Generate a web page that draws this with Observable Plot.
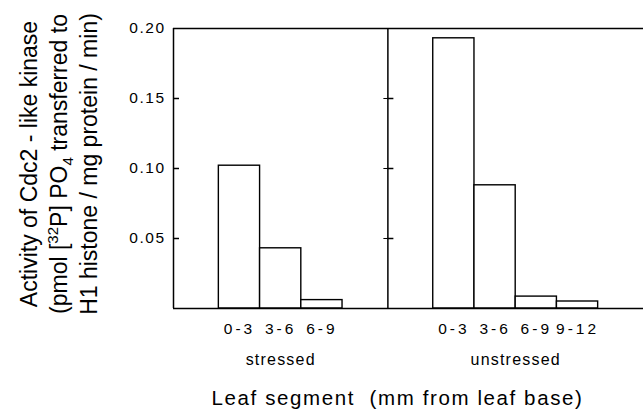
<!DOCTYPE html>
<html><head><meta charset="utf-8">
<script src="https://cdn.jsdelivr.net/npm/d3@7"></script>
<script src="https://cdn.jsdelivr.net/npm/@observablehq/plot@0.6"></script>
<style>body{margin:0;background:#fff} svg{display:block;background:#fff}</style>
</head><body><div id="chart"></div>
<script>
// ---- data ----
const groups = ["stressed", "unstressed"];
const stressedSegments = ["0-3", "3-6", "6-9"];
const stressedValues = [0.102, 0.043, 0.006];
const unstressedSegments = ["0-3", "3-6", "6-9", "9-12"];
const unstressedValues = [0.193, 0.088, 0.0085, 0.005];
const yTicks = [0.05, 0.10, 0.15, 0.20];
const yTickLabels = ["0.05", "0.10", "0.15", "0.20"];
const xTitle = "Leaf segment  (mm from leaf base)";

// ---- layout ----
const W = 643, H = 413;
const mL = 173, mR = 0, mT = 28, mB = 105;
const pad = 1.1; // empty space (in bar widths) on each side of a panel
const font = "'Liberation Sans', Arial, Helvetica, sans-serif";

const panels = [
  {group: groups[0], segments: stressedSegments, values: stressedValues},
  {group: groups[1], segments: unstressedSegments, values: unstressedValues}
];
let cursor = 0;
const bars = [], panelInfo = [];
for (const p of panels) {
  const start = cursor;
  p.segments.forEach((s, i) => bars.push({
    group: p.group, segment: s, value: p.values[i],
    x1: start + pad + i, x2: start + pad + i + 1
  }));
  cursor = start + pad * 2 + p.segments.length;
  panelInfo.push({group: p.group, start, end: cursor, mid: (start + cursor) / 2});
}
const xMax = cursor;
const ppu = (W - mL - mR) / xMax;
const tIn = 6 / ppu, tOut = 4 / ppu;
const innerTicks = yTicks.filter(v => v < 0.2);
const divX = panelInfo[0].end;

const chart = Plot.plot({
  width: W, height: H,
  marginLeft: mL, marginRight: mR, marginTop: mT, marginBottom: mB,
  x: {domain: [0, xMax], axis: null},
  y: {domain: [0, 0.2], axis: null},
  style: {fontFamily: font, color: "black", background: "white"},
  marks: [
    Plot.rectY(bars, {x1: "x1", x2: "x2", y1: 0, y2: "value", fill: "white", stroke: "black", strokeWidth: 1.4}),
    Plot.ruleY([0, 0.2], {stroke: "black", strokeWidth: 1.5}),
    Plot.ruleX([0, divX], {y1: 0, y2: 0.2, stroke: "black", strokeWidth: 1.5}),
    Plot.ruleY(innerTicks, {x1: 0, x2: tIn, stroke: "black", strokeWidth: 1.5}),
    Plot.ruleY(innerTicks, {x1: divX - tOut, x2: divX, stroke: "black", strokeWidth: 1}),
    Plot.ruleY(innerTicks, {x1: divX, x2: divX + tIn, stroke: "black", strokeWidth: 1.5}),
    Plot.text(yTicks, {x: 0, y: d => d, text: (d, i) => yTickLabels[i], textAnchor: "end", dx: -8, fontSize: 15.5, fill: "black", ariaDescription: "ytick"}),
    Plot.text(bars, {x: d => (d.x1 + d.x2) / 2, y: 0, text: "segment", dy: 21, fontSize: 15.5, fill: "black", ariaDescription: "xtick"}),
    Plot.text(panelInfo, {x: "mid", y: 0, text: "group", dy: 51, fontSize: 16, fill: "black", ariaDescription: "group"}),
    Plot.text([xTitle], {x: xMax / 2, y: 0, text: d => d, dx: -11, dy: 90, fontSize: 20.5, fill: "black", ariaDescription: "xtitle"})
  ]
});
document.getElementById("chart").appendChild(chart);

const svg = d3.select(chart);
svg.selectAll("g[aria-description=ytick] text").style("letter-spacing", "1.5px");
svg.selectAll("g[aria-description=xtick] text").style("letter-spacing", "3px");
svg.selectAll("g[aria-description=group] text").style("letter-spacing", "1.2px");
svg.selectAll("g[aria-description=xtitle] text").style("letter-spacing", "1.6px").style("white-space", "pre");

// y-axis title (three lines, with superscript / subscript)
const yl = svg.append("g")
  .attr("transform", "translate(0,164) rotate(-90)")
  .attr("font-family", font).attr("font-size", 23).attr("text-anchor", "middle").attr("fill", "black");
yl.append("text").attr("y", 37).text("Activity of Cdc2 - like kinase");
const l2 = yl.append("text").attr("y", 67);
l2.append("tspan").text("(pmol [");
l2.append("tspan").attr("dy", -9).attr("font-size", 15).text("32");
l2.append("tspan").attr("dy", 9).text("P] PO");
l2.append("tspan").attr("dy", 6).attr("font-size", 15).text("4");
l2.append("tspan").attr("dy", -6).text(" transferred to");
yl.append("text").attr("y", 97).text("H1 histone / mg protein / min)");
</script>
</body></html>
